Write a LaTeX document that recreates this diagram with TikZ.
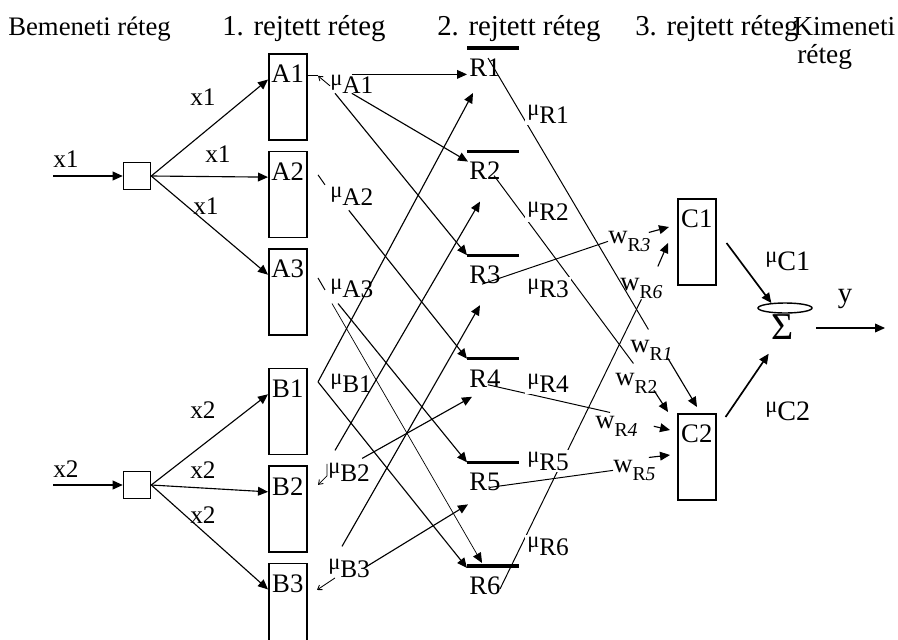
\documentclass[tikz,border=0pt]{standalone}
\usepackage{fontspec}
\setmainfont{Liberation Serif}
\usepackage{tikz}
\usetikzlibrary{shapes.geometric,arrows.meta,positioning,calc}

\newcommand{\mufn}[1]{\raisebox{0.2cm}{\fontsize{16}{16}\selectfont μ}#1}
\newcommand{\wfn}[1]{w\raisebox{-0.22cm}{\fontsize{14}{14}\selectfont R#1}}

\begin{document}
\begin{tikzpicture}[x=0.025cm, y=-0.025cm, >={Triangle[length=0.25cm,width=0.22cm]},
    fuzzy box/.style={rectangle, draw, line width=1.1pt, anchor=north west, font=\fontsize{19}{22}\selectfont,
        minimum width=0.95cm, inner xsep=0.05cm, inner ysep=0pt, text height=0.725cm, text depth=1.425cm},
    rule node/.style={anchor=north west, font=\fontsize{19}{22}\selectfont, text width=1.175cm, align=left,
        inner xsep=0.05cm, inner ysep=0.2cm, text height=0.5cm, text depth=0.1cm},
    rule bar/.style={line width=2.2pt},
    split box/.style={rectangle, draw, line width=1.1pt, minimum size=0.675cm, inner sep=0pt},
    layer label/.style={anchor=base west, inner sep=0pt, font=\fontsize{20.5}{24}\selectfont},
    in label/.style={anchor=base west, inner sep=0pt, font=\fontsize{18}{20}\selectfont},
    mu label/.style={anchor=base west, inner sep=0pt, font=\fontsize{18}{20}\selectfont},
    w label/.style={anchor=base west, inner sep=0pt, font=\fontsize{19}{20}\selectfont},
    sum ring/.style={ellipse, draw, line width=1pt, minimum width=1.35cm, minimum height=0.25cm, inner sep=0pt},
    sum node/.style={font=\fontsize{27}{29}\selectfont, inner sep=0.125cm},
    link arrow/.style={->, line width=0.8pt},
    rule line/.style={line width=0.7pt},
    tick arrow/.style={-{Straight Barb[length=0.1cm,width=0.14cm]}, line width=0.6pt}]

    \useasboundingbox (0,0) rectangle (898,639);

    \node [layer label, font=\fontsize{19}{22}\selectfont] (inlayer) at (8,35) {Bemeneti réteg};
    \node [layer label] (hid1) at (222,35) {1. rejtett réteg};
    \node [layer label] (hid2) at (437,35) {2. rejtett réteg};
    \node [layer label] (hid3) at (635,35) {3. rejtett réteg};
    \node [layer label, font=\fontsize{19.5}{22}\selectfont] (outlayer) at (793,35) {Kimeneti};
    \node [layer label, font=\fontsize{19.5}{22}\selectfont] (outlayer2) at (797,63) {réteg};

    \coordinate (in1) at (53,176);
    \coordinate (in2) at (53,485);
    \node [split box] (split1) at (137,176) {};
    \node [split box] (split2) at (137,485) {};
    \node [in label] (x1in) at (53,167) {x1};
    \node [in label] (x2in) at (53,477) {x2};

    \node [fuzzy box] (A1) at (268,53) {A1};
    \node [fuzzy box, below=0.25cm of A1] (A2) {A2};
    \node [fuzzy box, below=0.25cm of A2] (A3) {A3};
    \node [fuzzy box, below=0.8cm of A3] (B1) {B1};
    \node [fuzzy box, below=0.25cm of B1] (B2) {B2};
    \node [fuzzy box, below=0.25cm of B2] (B3) {B3};

    \draw [link arrow] (in1) -- (split1);
    \draw [link arrow] (split1.east) -- (A1.mid west);
    \draw [link arrow] (split1.east) -- (A2.mid west);
    \draw [link arrow] (split1.east) -- (A3.mid west);
    \node [in label] (x1a) at (190,105) {x1};
    \node [in label] (x1b) at (205,162) {x1};
    \node [in label] (x1c) at (193,214) {x1};

    \draw [link arrow] (in2) -- (split2);
    \draw [link arrow] (split2.east) -- (B1.mid west);
    \draw [link arrow] (split2.east) -- (B2.mid west);
    \draw [link arrow] (split2.east) -- (B3.mid west);
    \node [in label] (x2a) at (190,418) {x2};
    \node [in label] (x2b) at (190,478) {x2};
    \node [in label] (x2c) at (190,523) {x2};

    \node [mu label] (muA1) at (330,93) {\mufn{A1}};
    \node [mu label] (muA2) at (330,205) {\mufn{A2}};
    \node [mu label] (muA3) at (330,297) {\mufn{A3}};
    \node [mu label] (muB1) at (330,392) {\mufn{B1}};
    \node [mu label] (muB2) at (328,481) {\mufn{B2}};
    \node [mu label] (muB3) at (328,577) {\mufn{B3}};

    \draw [tick arrow] ($(muA1.west)+(0,2)$) -- ++(-12,-10) coordinate (tA1);
    \draw [rule line] (tA1) -- (tA1 -| A1.east);
    \draw [rule line] ($(muA2.west)+(-5,-11)$) -- ++(-7,-10);
    \draw [rule line] ($(muA3.west)+(-5,2)$) -- ++(-7,-12);
    \draw [tick arrow] ($(muB2.west)+(-1,-8)$) -- ++(0,12) -- ++(-9,9);
    \draw [tick arrow] ($(muB3.west)+(7,10)$) -- ++(-18,12);

    \node [rule node] (R1) at (467,48) {R1};
    \node [rule node, below=1.575cm of R1] (R2) {R2};
    \node [rule node, below=1.575cm of R2] (R3) {R3};
    \node [rule node, below=1.575cm of R3] (R4) {R4};
    \node [rule node, below=1.575cm of R4] (R5) {R5};
    \node [rule node, below=1.575cm of R5] (R6) {R6};
    \draw [rule bar] (R1.north west) -- (R1.north east);
    \draw [rule bar] (R2.north west) -- (R2.north east);
    \draw [rule bar] (R3.north west) -- (R3.north east);
    \draw [rule bar] (R4.north west) -- (R4.north east);
    \draw [rule bar] (R5.north west) -- (R5.north east);
    \draw [rule bar] (R6.north west) -- (R6.north east);

    \draw [link arrow] (muA1.north) -- (muA1.north -| R1.west);
    \draw [link arrow] (muA1.south) -- ($(R2.north west)+(1,10)$);
    \draw [link arrow] ($(muA1.south west)+(5,0)$) -- (R3.north west);
    \draw [link arrow] ($(muA2.south)+(-3,5)$) -- (R4.north west);
    \draw [link arrow] ($(muA3.south west)+(8,6)$) -- (R5.north west);
    \draw [link arrow, line width=0.5pt] ($(muA3.south west)+(2,6)$) -- ($(R6.north west)+(15,-3)$);
    \coordinate (vB1) at ($(muB1.west)+(-12,-1)$);
    \draw [link arrow] (vB1) -- ($(R1.north west)+(6,45)$);
    \draw [link arrow] (vB1) -- ($(R6.north west)+(0,2)$);
    \draw [link arrow] ($(muB2.north west)+(7,-12)$) -- ($(R2.north west)+(13,50)$);
    \draw [link arrow] ($(muB2.north east)+(-8,-4)$) -- ($(R4.north west)+(5,38)$);
    \draw [link arrow] ($(muB3.north west)+(14,-12)$) -- ($(R3.north west)+(13,50)$);
    \draw [link arrow] ($(muB3.east)+(-6,0)$) -- ($(R5.north west)+(1,42)$);

    \node [w label] (wR3) at (608,243) {\wfn{\textit{3}}};
    \node [w label] (wR6) at (620,290) {\wfn{\textit{6}}};
    \node [w label] (wR1) at (630,352) {\wfn{\textit{1}}};
    \node [w label] (wR2) at (615,385) {\wfn{2}};
    \node [w label] (wR4) at (595,428) {\wfn{\textit{4}}};
    \node [w label] (wR5) at (613,472) {\wfn{\textit{5}}};

    \node [fuzzy box] (C1) at (677,198) {C1};
    \node [fuzzy box] (C2) at (677,413) {C2};

    \draw [rule line] ($(R1.north west)+(21,10)$) -- ($(wR1.north)+(-3,-10)$);
    \draw [rule line] ($(R2.north west)+(27,24)$) -- ($(wR2.north)+(-3,-9)$);
    \draw [rule line] ($(R3.north west)+(15,29)$) -- (wR3.west);
    \draw [rule line] ($(R4.north west)+(21,26)$) -- ($(wR4.north west)+(15,-3)$);
    \draw [rule line] ($(R5.north west)+(23,25)$) -- (wR5.west);
    \draw [rule line] ($(R6.north west)+(33,23)$) -- (wR6.south);

    \draw [link arrow] ($(wR3.north east)+(-2,2)$) -- ($(C1.north west)+(-8,29)$);
    \draw [link arrow] ($(wR6.north east)+(-5,-11)$) -- ($(C1.north west)+(-9,45)$);
    \draw [link arrow] ($(wR1.east)+(-5,8)$) -- ($(C2.north west)+(20,-6)$);
    \draw [link arrow] ($(wR2.east)+(-4,7)$) -- ($(C2.north west)+(-9,-1)$);
    \draw [link arrow] ($(wR4.east)+(16,0)$) -- ($(C2.north west)+(-7,17)$);
    \draw [link arrow] ($(wR5.north east)+(-7,-2)$) -- ($(C2.north west)+(-7,42)$);

    \node [sum ring] (sumring) at (785,308) {};
    \node [sum node] (sum) at (783,327) {Σ};
    \coordinate (yout) at (885,328);
    \draw [link arrow, line width=1.2pt] ($(C1.north east)+(10,45)$) -- (sumring.160);
    \draw [link arrow, line width=1.2pt] ($(C2.north east)+(9,4)$) -- ($(sum.south west)+(2,9)$);
    \draw [link arrow] ($(sum.east)+(17,1)$) -- (yout);
    \node [layer label, anchor=base] (ylab) at (845,302) {y};
    \node [mu label, font=\fontsize{20}{22}\selectfont] (muC1) at (765,270) {\mufn{C1}};
    \node [mu label, font=\fontsize{20}{22}\selectfont] (muC2) at (765,420) {\mufn{C2}};

    \node [mu label, fill=white, inner sep=0.05cm] (muR1) at (525,123) {\mufn{R1}};
    \node [mu label, fill=white, inner sep=0.05cm] (muR2) at (525,220) {\mufn{R2}};
    \node [mu label, fill=white, inner sep=0.05cm] (muR3) at (525,297) {\mufn{R3}};
    \node [mu label, fill=white, inner sep=0.05cm] (muR4) at (525,392) {\mufn{R4}};
    \node [mu label, fill=white, inner sep=0.05cm] (muR5) at (525,470) {\mufn{R5}};
    \node [mu label, fill=white, inner sep=0.05cm] (muR6) at (525,555) {\mufn{R6}};

\end{tikzpicture}
\end{document}
